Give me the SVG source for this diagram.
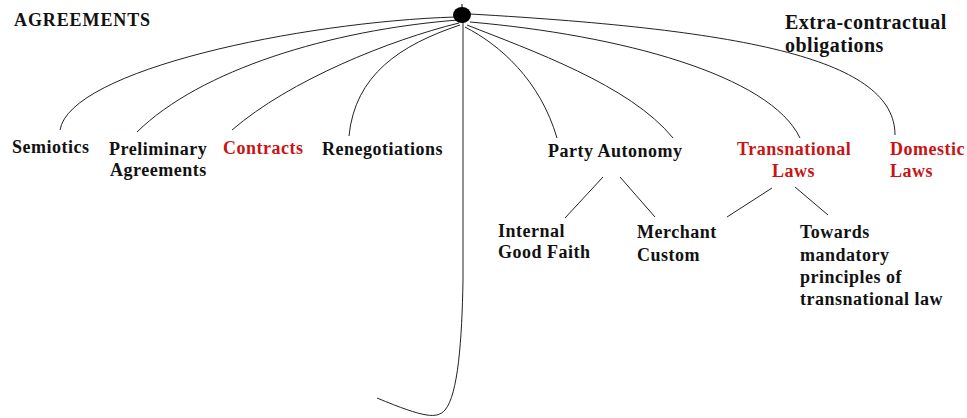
<svg xmlns="http://www.w3.org/2000/svg" width="967" height="418" viewBox="0 0 967 418">
<style>
text{font-family:"Liberation Serif","Times New Roman",serif;font-weight:bold;font-size:18px;letter-spacing:0.5px;fill:#111}
.red{fill:#c81414}
.big{font-size:20px}
.c{fill:none;stroke:#222;stroke-width:1}
</style>
<rect width="967" height="418" fill="#fff"/>
<g id="connectors">
<path class="c" d="M455,17 C300,22 70,70 60,130"/>
<path class="c" d="M458,20 C330,30 200,70 137,132"/>
<path class="c" d="M459,23 C390,40 290,80 232,130"/>
<path class="c" d="M460,25 C400,45 355,75 349,136"/>
<path class="c" d="M465,27 C500,45 540,80 557,138"/>
<path class="c" d="M467,25 C530,50 630,85 673,138"/>
<path class="c" d="M470,22 C620,35 770,75 800,138"/>
<path class="c" d="M470,14 C750,30 895,60 895,135"/>
<path class="c" d="M463,22 L463,280 C462,340 458,395 445,410 C437,419 425,418 377,398"/>
<path class="c" d="M603,177 L565,218"/>
<path class="c" d="M620,177 L655,217"/>
<path class="c" d="M772,188 L727,217"/>
<path class="c" d="M795,187 L828,215"/>
</g>
<g id="hub">
<line x1="462" y1="4" x2="462" y2="9" stroke="#000" stroke-width="1"/>
<ellipse cx="462" cy="15" rx="9" ry="8" fill="#000"/>
</g>
<g id="agreements"><text x="14" y="26" style="letter-spacing:0.9px">AGREEMENTS</text></g>
<g id="extra"><text class="big" x="785" y="29">Extra-contractual</text><text class="big" x="785" y="52">obligations</text></g>
<g id="semiotics"><text x="12" y="153">Semiotics</text></g>
<g id="preliminary"><text x="109" y="155">Preliminary</text><text x="110" y="176">Agreements</text></g>
<g id="contracts"><text class="red" x="223" y="154">Contracts</text></g>
<g id="renegotiations"><text x="322" y="155">Renegotiations</text></g>
<g id="party"><text x="548" y="157">Party Autonomy</text></g>
<g id="transnational"><text class="red" x="737" y="155">Transnational</text><text class="red" x="772" y="177">Laws</text></g>
<g id="domestic"><text class="red" x="890" y="155">Domestic</text><text class="red" x="890" y="177">Laws</text></g>
<g id="internal"><text x="498" y="237">Internal</text><text x="498" y="258">Good Faith</text></g>
<g id="merchant"><text x="637" y="238">Merchant</text><text x="637" y="261">Custom</text></g>
<g id="towards"><text x="800" y="238">Towards</text><text x="800" y="261">mandatory</text><text x="800" y="283">principles of</text><text x="800" y="305">transnational law</text></g>
</svg>
